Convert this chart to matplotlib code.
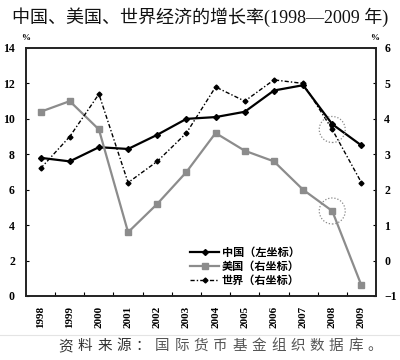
import matplotlib
matplotlib.use("Agg")
import matplotlib.pyplot as plt
from matplotlib.patches import Ellipse
from matplotlib.lines import Line2D

years = ["1998", "1999", "2000", "2001", "2002", "2003",
         "2004", "2005", "2006", "2007", "2008", "2009"]
china = [7.8, 7.6, 8.4, 8.3, 9.1, 10.0, 10.1, 10.4, 11.6, 11.9, 9.7, 8.5]   # left axis
usa = [4.2, 4.5, 3.7, 0.8, 1.6, 2.5, 3.6, 3.1, 2.8, 2.0, 1.4, -0.7]        # right axis
world = [2.6, 3.5, 4.7, 2.2, 2.8, 3.6, 4.9, 4.5, 5.1, 5.0, 3.7, 2.2]       # right axis

title = "中国、美国、世界经济的增长率(1998—2009 年)"
source_head = "资料来源："
source_tail = "国际货币基金组织数据库。"
labels = ["中国（左坐标）", "美国（右坐标）", "世界（右坐标）"]

cjk = ["Noto Sans CJK SC", "DejaVu Sans"]
serif = ["Liberation Serif", "DejaVu Serif"]

fig = plt.figure(figsize=(4, 3.6), dpi=100)
ax = fig.add_axes([26 / 400, 1 - 296 / 360, 350 / 400, 248 / 360])
ax2 = ax.twinx()

x = list(range(len(years)))
ax.plot(x, china, color="black", lw=1.6, marker="D", ms=3, zorder=5)
ax2.plot(x, usa, color="#8c8c8c", lw=1.6, marker="s", ms=4, zorder=4)
ax2.plot(x, world, color="black", lw=1.0, dashes=(3, 1.5, 1, 1.5),
         marker="D", ms=2.5, zorder=4)

ax.set_xlim(-0.5, 11.5)
ax.set_ylim(0, 14)
ax2.set_ylim(-1, 6)
ax.set_yticks(range(0, 15, 2))
ax2.set_yticks(range(-1, 7))
ax.set_xticks(x)
ax.set_xticklabels(years, rotation=90, fontfamily=serif, fontweight="bold", fontsize=8)
ax.set_xticks([i + 0.5 for i in x[:-1]], minor=True)
ax.tick_params(axis="x", which="major", length=0, pad=7)
ax.tick_params(axis="x", which="minor", direction="in", length=3, width=0.8)
ax.tick_params(axis="y", direction="in", length=2.5, width=0.8, pad=8)
ax2.tick_params(axis="y", direction="in", length=2.5, width=0.8, pad=6)
for t in ax.get_yticklabels() + ax2.get_yticklabels():
    t.set_fontfamily(serif)
    t.set_fontweight("bold")
    t.set_fontsize(8.5)
for a in (ax, ax2):
    for s in a.spines.values():
        s.set_linewidth(1.2)
        s.set_color("#222222")

# dotted circles around 2008
for val in (world[10], usa[10]):
    ax2.add_patch(Ellipse((10, val), 26 / 29.2, 26 / 35.4, fill=False,
                          ec="#888888", lw=0.9, ls=(0, (1, 1.5)), zorder=6))

handles = [
    Line2D([], [], color="black", lw=1.6, marker="D", ms=3),
    Line2D([], [], color="#8c8c8c", lw=1.6, marker="s", ms=4),
    Line2D([], [], color="black", lw=1.0, dashes=(3, 1.5, 1, 1.5), marker="D", ms=2.5),
]
leg = ax.legend(handles, labels, loc="upper left", bbox_to_anchor=(186 / 400, 1 - 241 / 360),
                bbox_transform=fig.transFigure, frameon=False, handlelength=2.6,
                handletextpad=0.2, labelspacing=0.1, borderaxespad=0,
                prop={"family": cjk, "weight": "bold", "size": 8})

fig.text(26 / 400, 1 - 38 / 360, "%", ha="center", va="center", fontsize=6.5,
         fontweight="bold", family=serif)
fig.text(375 / 400, 1 - 38 / 360, "%", ha="center", va="center", fontsize=6.5,
         fontweight="bold", family=serif)

fig.text(0.5, 1 - 17 / 360, title, ha="center", va="center", fontsize=13,
         family=["Liberation Serif", "Noto Sans CJK SC"], color="#111111")

# faint separator and source line
fig.add_artist(Line2D([0, 1], [1 - 335 / 360] * 2, color="#e4e4e4", lw=0.8))
src = source_head + source_tail
for i, ch in enumerate(src):
    col = "#333333" if i < len(source_head) else "#555555"
    fig.text((66 + i * 19.3) / 400, 1 - 346 / 360, ch, ha="center", va="center",
             fontsize=10.5, family=cjk, color=col)

fig.savefig("out.png", dpi=100)
